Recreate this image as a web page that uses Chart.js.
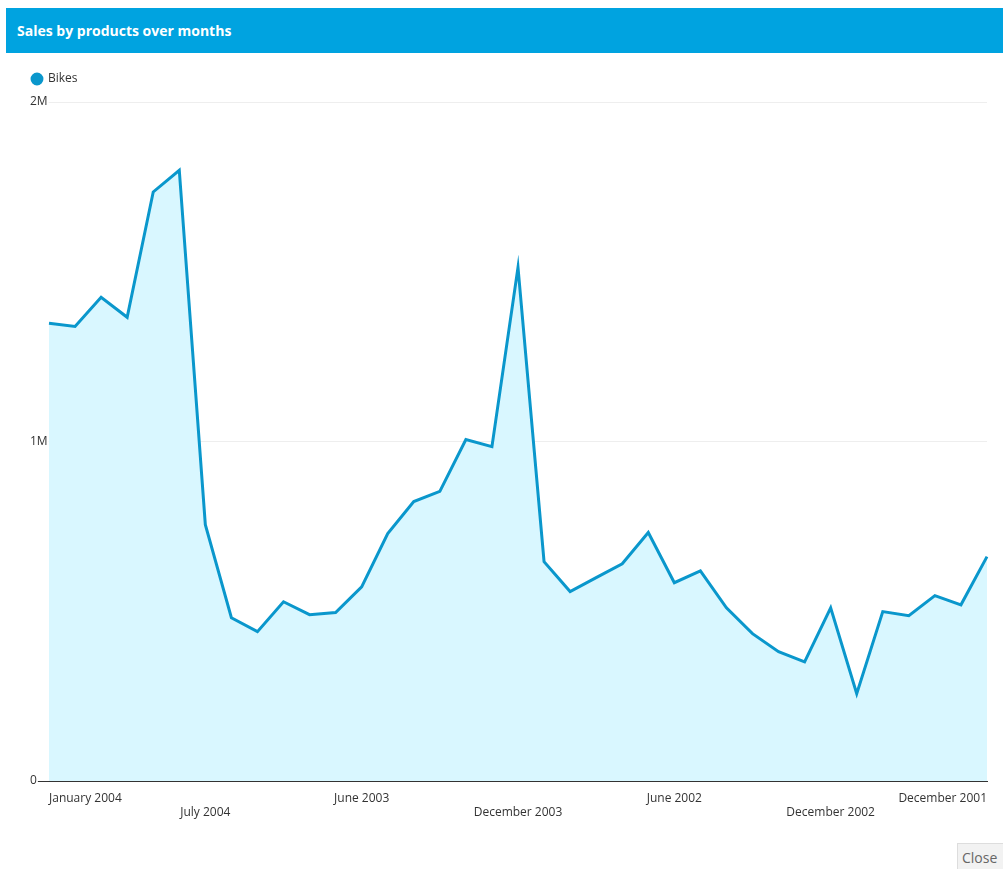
<!DOCTYPE html>
<html>
<head>
<meta charset="utf-8">
<script src="https://cdn.jsdelivr.net/npm/chart.js@4"></script>
<style>
    body { margin: 0; background: #fff; font-family: 'Segoe UI', 'Open Sans', sans-serif; }
    .header {
        position: absolute; left: 6px; top: 8px; width: 997px; height: 45px;
        background: #00a3e0; color: #fff; font-weight: bold; font-size: 14px;
        line-height: 45px; padding-left: 11px; box-sizing: border-box;
    }
    .chart-box { position: absolute; left: 0; top: 60px; width: 1003px; height: 770px; }
    .close-btn {
        position: absolute; left: 957px; top: 843px; width: 50px; height: 28px;
        background: #f2f2f2; border: 1px solid #ddd; color: #666;
        font-family: 'Segoe UI', 'Open Sans', sans-serif; font-size: 14px; padding: 0 0 0 4px; text-align: left;
    }
</style>
</head>
<body>
<div class="header">Sales by products over months</div>
<div class="chart-box"><canvas id="chart"></canvas></div>
<button class="close-btn">Close</button>
<script>
// only every 6th month is labelled in the picture; the others stay blank
const months = [
    'January 2004', '', '', '', '', '',
    'July 2004', '', '', '', '', '',
    'June 2003', '', '', '', '', '',
    'December 2003', '', '', '', '', '',
    'June 2002', '', '', '', '', '',
    'December 2002', '', '', '', '', '',
    'December 2001'
];

const bikes = [
    1348000, 1339000, 1425000, 1366000, 1735000, 1799000,
    755000, 481000, 440000, 528000, 490000, 496000,
    572000, 729000, 823000, 853000, 1006000, 985000,
    1513000, 646000, 558000, 599000, 640000, 732000,
    584000, 619000, 510000, 434000, 381000, 351000,
    510000, 257000, 499000, 487000, 546000, 519000,
    661000
];

const yTicks = [0, 1000000, 2000000];
const yTickLabels = ['0', '1M', '2M'];

const fontFamily = "'Segoe UI', 'Open Sans', sans-serif";
Chart.defaults.font.family = fontFamily;
Chart.defaults.font.size = 12;
Chart.defaults.color = '#333';

// a bit more room under the legend
const legendGap = {
    id: 'legendGap',
    beforeInit(chart) {
        const fit = chart.legend.fit;
        chart.legend.fit = function() {
            fit.bind(chart.legend)();
            this.height += 7;
        };
    }
};

new Chart(document.getElementById('chart'), {
    type: 'line',
    data: {
        labels: months,
        datasets: [
            {
                label: 'Bikes',
                data: bikes,
                borderColor: '#0a97cc',
                backgroundColor: '#d9f7ff',
                pointBackgroundColor: '#0a97cc',
                borderWidth: 3,
                pointRadius: 0,
                tension: 0,
                fill: 'origin'
            }
        ]
    },
    plugins: [legendGap],
    options: {
        responsive: true,
        maintainAspectRatio: false,
        animation: false,
        layout: {
            padding: { left: 30, right: 16, top: 11, bottom: 0 }
        },
        plugins: {
            tooltip: { enabled: false },
            legend: {
                align: 'start',
                labels: {
                    usePointStyle: true,
                    pointStyle: 'circle',
                    boxWidth: 10,
                    boxHeight: 7,
                    padding: 2,
                    font: { size: 12 },
                    color: '#333'
                }
            }
        },
        scales: {
            x: {
                grid: { display: false },
                border: { display: true, color: '#333', width: 1 },
                ticks: {
                    autoSkip: false,
                    maxRotation: 0,
                    minRotation: 0,
                    align: 'inner',
                    padding: 2,
                    color: '#333',
                    callback: function(value, index) {
                        const label = months[index];
                        if (!label) return '';
                        return (index / 6) % 2 === 1 ? ['', label] : label;
                    }
                },
                afterFit: function(scale) { scale.height = 49; }
            },
            y: {
                min: 0,
                max: 2000000,
                afterBuildTicks: function(scale) {
                    scale.ticks = yTicks.map(v => ({ value: v }));
                },
                border: { display: false },
                grid: {
                    color: ctx => ctx.tick && ctx.tick.value === 0 ? '#333' : '#eeeeee',
                    tickColor: ctx => ctx.tick && ctx.tick.value === 0 ? '#333' : '#eeeeee',
                    tickLength: 19,
                    lineWidth: 1
                },
                ticks: {
                    padding: 0,
                    crossAlign: 'far',
                    color: '#333',
                    showLabelBackdrop: true,
                    backdropColor: '#fff',
                    backdropPadding: { top: 0, bottom: 0, left: 0, right: 1 },
                    callback: function(value) {
                        const i = yTicks.indexOf(value);
                        return i >= 0 ? yTickLabels[i] : '';
                    }
                },
                afterFit: function(scale) { scale.width = 19; }
            }
        }
    }
});
</script>
</body>
</html>
